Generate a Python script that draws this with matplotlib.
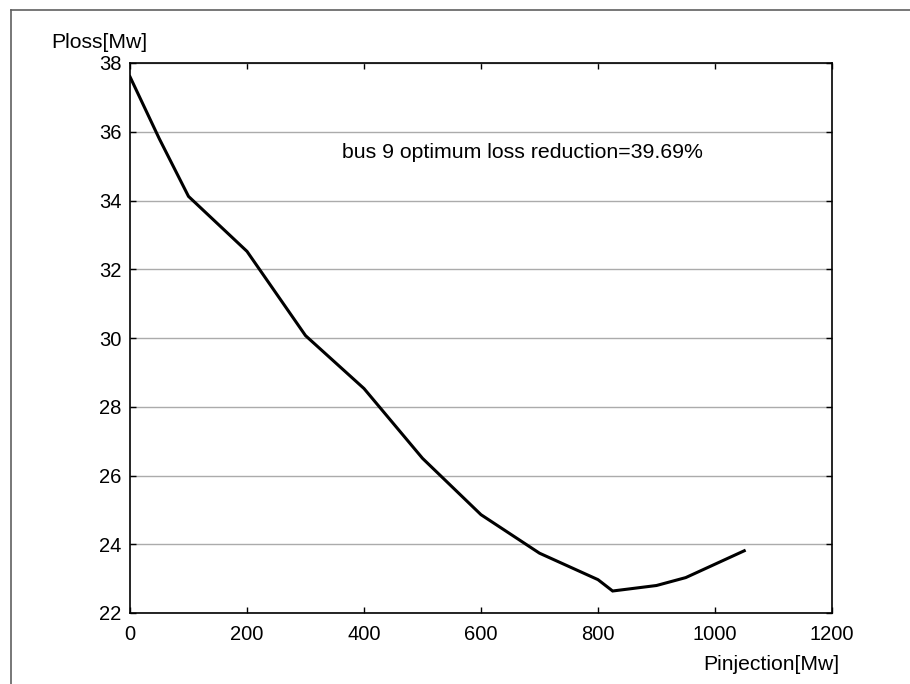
import numpy as np
import matplotlib
matplotlib.use('Agg')
import matplotlib.pyplot as plt
from matplotlib.lines import Line2D

plt.rcParams['font.family'] = ['Liberation Sans', 'DejaVu Sans']

# data
p_injection = [0, 50, 100, 200, 300, 400, 500, 600, 700, 800, 825, 900, 950, 1050]
p_loss = [37.6, 35.8, 34.12, 32.52, 30.07, 28.53, 26.5, 24.86, 23.74, 22.97, 22.64, 22.8, 23.03, 23.81]
x_ticks = [0, 200, 400, 600, 800, 1000, 1200]
y_ticks = [22, 24, 26, 28, 30, 32, 34, 36, 38]
note = 'bus 9 optimum loss reduction=39.69%'

fig = plt.figure(figsize=(9.1, 6.84), dpi=100)
ax = fig.add_axes([130 / 910, 1 - 613 / 684, (832 - 130) / 910, (613 - 63) / 684])

ax.plot(p_injection, p_loss, color='black', lw=2.2, solid_joinstyle='miter')
ax.set_xlim(0, 1200)
ax.set_ylim(22, 38)
ax.set_xticks(x_ticks)
ax.set_yticks(y_ticks)
ax.yaxis.grid(True, color='#ababab', lw=1.0)
ax.set_axisbelow(True)
ax.tick_params(direction='in', length=4, width=1, top=True, right=True,
               labelsize=14.5, colors='black')
ax.tick_params(axis='x', pad=9)
ax.tick_params(axis='y', pad=6)
for s in ax.spines.values():
    s.set_linewidth(1.2)

ax.text(362, 35.4, note, fontsize=15.3, va='center', ha='left')

fig.text(51 / 910, 1 - 43 / 684, 'Ploss[Mw]', fontsize=15.2, va='center', ha='left')
fig.text(703 / 910, 1 - 664 / 684, 'Pinjection[Mw]', fontsize=15.2, va='center', ha='left')

# frame of the screenshot (top and left edges)
fig.add_artist(Line2D([11 / 910, 11 / 910], [0, 1 - 10 / 684], transform=fig.transFigure,
                      color='#606060', lw=1.2))
fig.add_artist(Line2D([11 / 910, 1], [1 - 10 / 684, 1 - 10 / 684], transform=fig.transFigure,
                      color='#606060', lw=1.2))

fig.savefig('out.png', dpi=100)
